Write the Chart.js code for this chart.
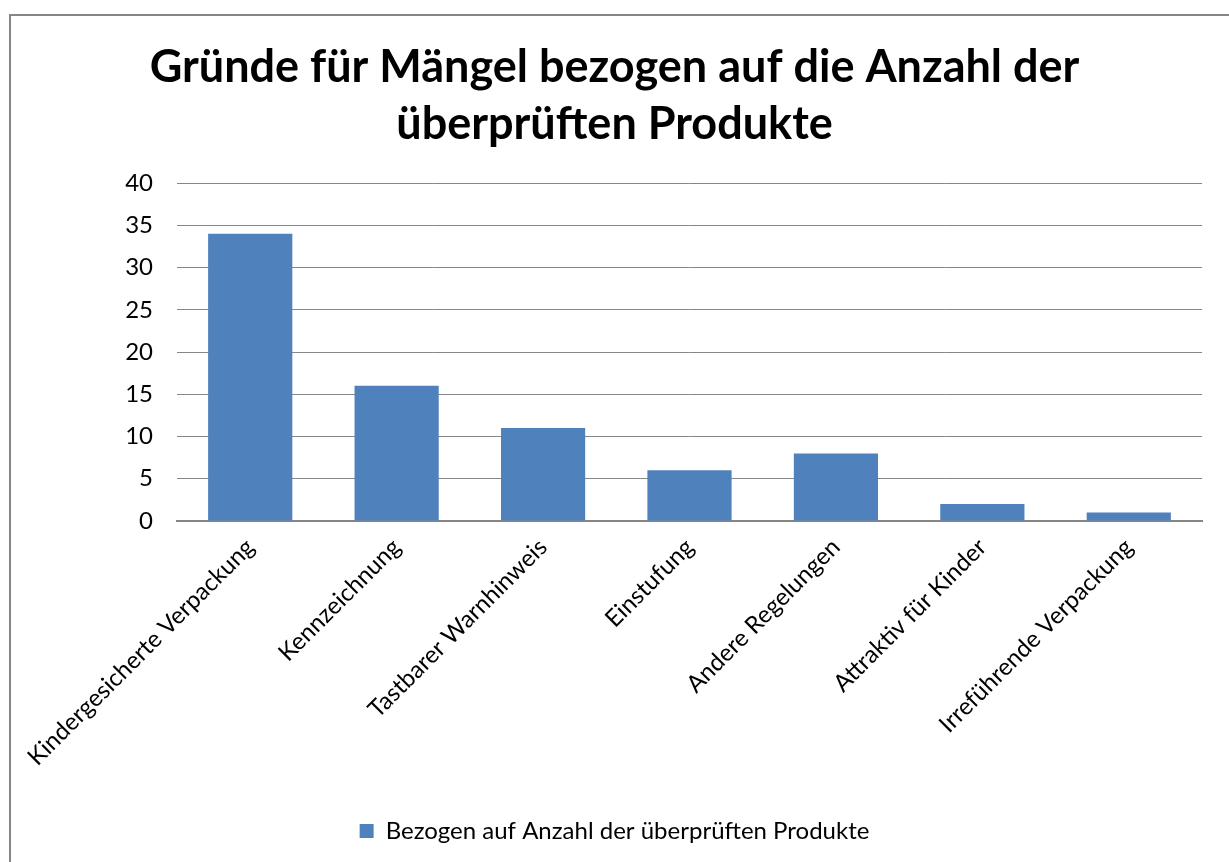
<!DOCTYPE html>
<html>
<head>
<meta charset="utf-8">
<script src="https://cdn.jsdelivr.net/npm/chart.js@4"></script>
<style>
  html, body { margin: 0; padding: 0; background: #fff; overflow: hidden; }
  #wrap { position: relative; width: 1229px; height: 862px; }
  #frame { position: absolute; left: 9px; top: 14px; width: 1240px; height: 900px;
           border: 2px solid #868686; box-sizing: border-box; }
  canvas { position: absolute; left: 0; top: 0; }
</style>
</head>
<body>
<div id="wrap">
  <div id="frame"></div>
  <canvas id="chart" width="1229" height="862"></canvas>
</div>
<script>
// Reasons for defects relative to the number of inspected products
const categories = [
  'Kindergesicherte Verpackung',
  'Kennzeichnung',
  'Tastbarer Warnhinweis',
  'Einstufung',
  'Andere Regelungen',
  'Attraktiv für Kinder',
  'Irreführende Verpackung'
];
const values = [34, 16, 11, 6, 8, 2, 1];
const seriesName = 'Bezogen auf Anzahl der überprüften Produkte';
const titleLines = ['Gründe für Mängel bezogen auf die Anzahl der', 'überprüften Produkte'];

const FONT = 'Lato, "Open Sans", sans-serif';
const GRID = '#868686';
const BAR = '#4F81BD';

new Chart(document.getElementById('chart'), {
  type: 'bar',
  data: {
    labels: categories,
    datasets: [{
      label: seriesName,
      data: values,
      backgroundColor: BAR,
      borderWidth: 0,
      categoryPercentage: 1.0,
      barPercentage: 0.575
    }]
  },
  options: {
    responsive: false,
    animation: false,
    layout: { padding: { left: 27, right: 27, top: 39, bottom: 9 } },
    plugins: {
      title: {
        display: true,
        text: titleLines,
        color: '#000',
        font: { family: FONT, size: 45, weight: 'bold', lineHeight: 1.267 },
        padding: { top: 0, bottom: 30 }
      },
      legend: {
        position: 'bottom',
        labels: {
          color: '#000',
          font: { family: FONT, size: 24 },
          boxWidth: 14,
          boxHeight: 14,
          padding: 10
        }
      },
      tooltip: { enabled: false }
    },
    scales: {
      x: {
        grid: { display: false },
        border: { display: true, color: GRID, width: 2 },
        ticks: {
          color: '#000',
          font: { family: FONT, size: 24 },
          minRotation: 45,
          maxRotation: 45,
          padding: 4
        },
        afterFit: (scale) => { scale.height = 288; }
      },
      y: {
        min: 0,
        max: 40,
        ticks: {
          stepSize: 5,
          color: '#000',
          font: { family: FONT, size: 24 },
          padding: 24
        },
        grid: { color: GRID, lineWidth: 1, drawTicks: false },
        border: { display: false },
        afterFit: (scale) => { scale.width = 150; }
      }
    }
  }
});
</script>
</body>
</html>
